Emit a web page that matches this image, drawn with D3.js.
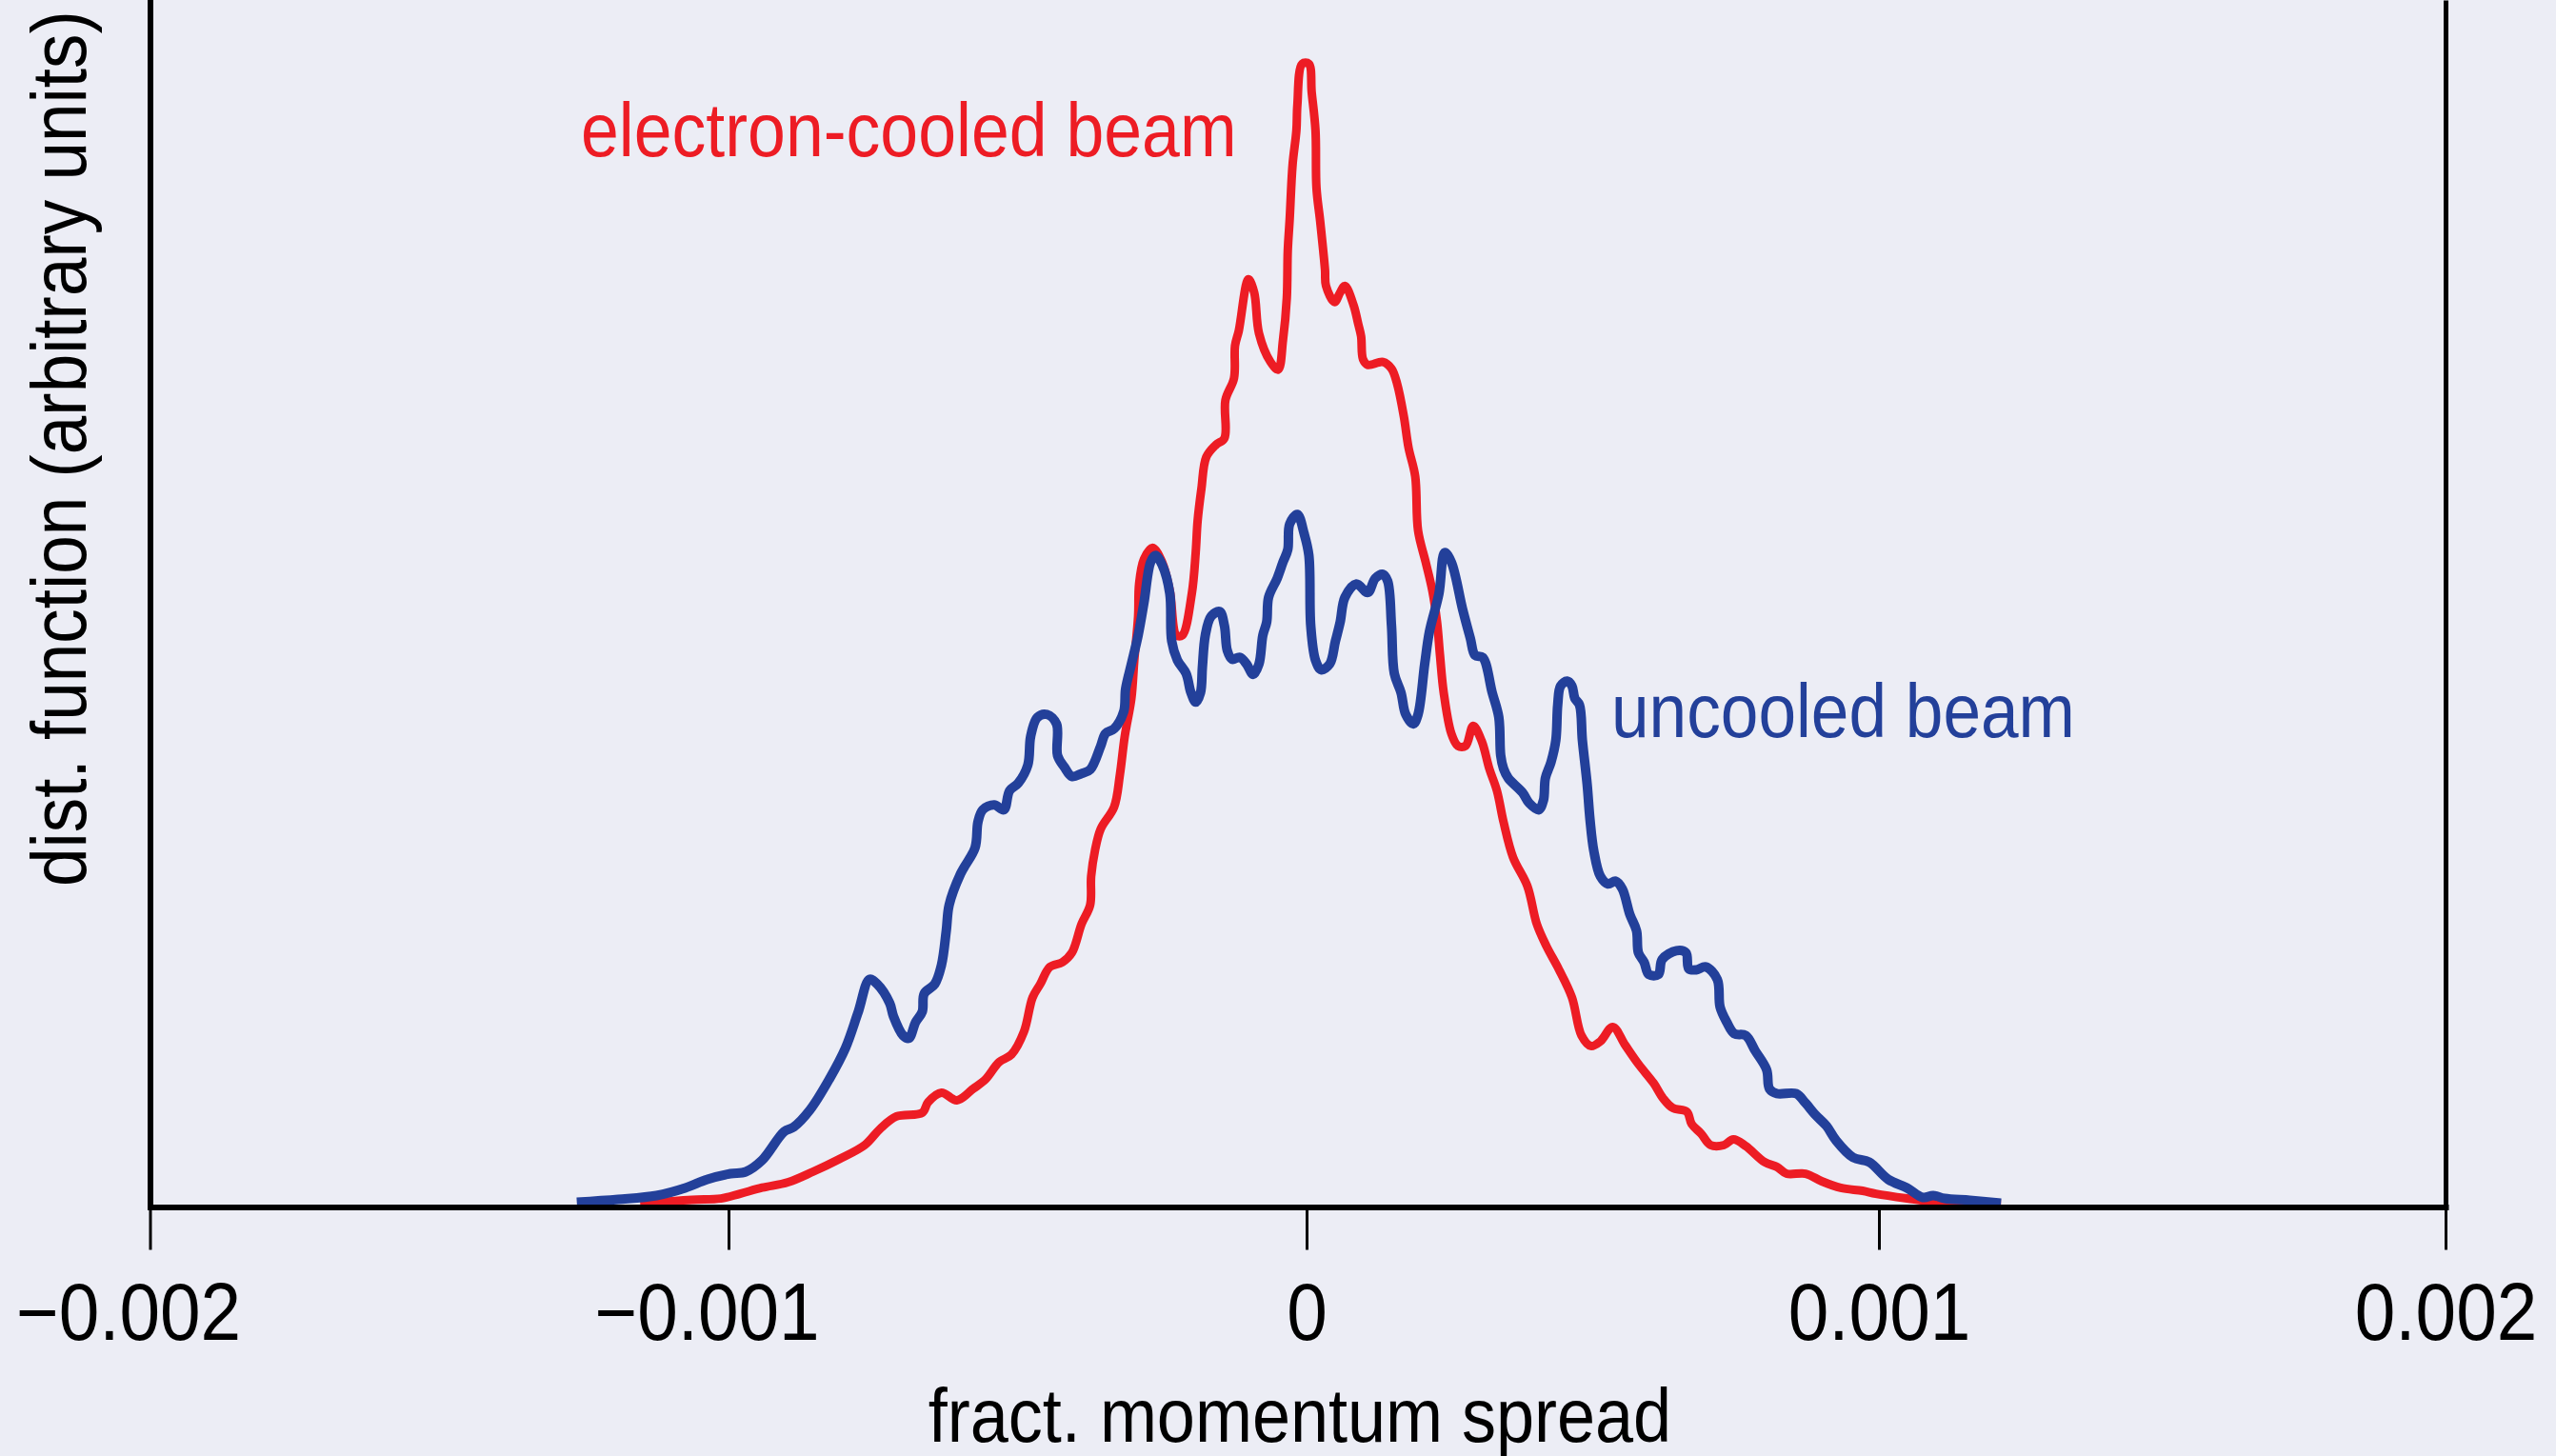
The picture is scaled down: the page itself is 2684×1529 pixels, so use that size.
<!DOCTYPE html>
<html>
<head>
<meta charset="utf-8">
<script src="https://cdn.jsdelivr.net/npm/d3@7"></script>
<style>
  html, body { margin: 0; padding: 0; background: #ecedf5; }
  svg { display: block; }
  text { font-family: "Liberation Sans", Arial, sans-serif; }
</style>
</head>
<body>
<div id="chart"></div>
<script>
// ---- data (x in units of 1e-3, y in arbitrary units) ----
const xTicks = [-0.002, -0.001, 0, 0.001, 0.002];
const xTickLabels = ["\u22120.002", "\u22120.001", "0", "0.001", "0.002"];

const cooledX = [-1.1527, -1.0631, -1.0133, -0.9801, -0.9419, -0.8971, -0.8540, -0.8092, -0.7644, -0.7378,
  -0.7096, -0.6648, -0.6548, -0.6316, -0.6050, -0.5768, -0.5553, -0.5320, -0.5105, -0.4889,
  -0.4740, -0.4607, -0.4441, -0.4225, -0.4059, -0.3893, -0.3744, -0.3727, -0.3661, -0.3561,
  -0.3329, -0.3229, -0.3146, -0.3030, -0.2980, -0.2914, -0.2897, -0.2814, -0.2665, -0.2499,
  -0.2366, -0.2250, -0.2151, -0.1985, -0.1918, -0.1885, -0.1819, -0.1736, -0.1570, -0.1421,
  -0.1404, -0.1255, -0.1238, -0.1172, -0.1006, -0.0906, -0.0823, -0.0624, -0.0491, -0.0408,
  -0.0342, -0.0325, -0.0292, -0.0242, -0.0176, -0.0159, -0.0076, 0.0040, 0.0090, 0.0156,
  0.0173, 0.0239, 0.0322, 0.0339, 0.0488, 0.0587, 0.0670, 0.0820, 0.0903, 0.0953,
  0.0986, 0.1069, 0.1334, 0.1484, 0.1583, 0.1699, 0.1782, 0.1898, 0.1948, 0.2081,
  0.2197, 0.2280, 0.2330, 0.2396, 0.2529, 0.2645, 0.2778, 0.2911, 0.3060, 0.3193,
  0.3326, 0.3442, 0.3608, 0.3857, 0.4023, 0.4189, 0.4404, 0.4637, 0.4803, 0.4968,
  0.5134, 0.5350, 0.5566, 0.5798, 0.6064, 0.6230, 0.6396, 0.6645, 0.6728, 0.6893,
  0.7059, 0.7292, 0.7458, 0.7673, 0.8005, 0.8221, 0.8387, 0.8719, 0.9001, 0.9333,
  0.9715, 0.9947, 1.0495, 1.1042, 1.2154];
const cooledY = [0.3, 0.6, 0.7, 1.1, 1.6, 2.05, 2.92, 3.95, 5.13, 6.47,
  7.50, 7.81, 8.68, 9.47, 8.84, 9.79, 10.58, 12.00, 12.63, 14.52,
  17.36, 18.47, 19.89, 20.28, 21.07, 23.44, 25.02, 27.39, 29.52, 31.33,
  33.15, 35.83, 38.99, 42.15, 45.30, 48.93, 51.62, 53.67, 54.62, 53.43,
  51.07, 47.36, 47.36, 50.83, 54.22, 56.83, 59.51, 62.12, 63.14, 63.69,
  66.85, 68.67, 71.35, 72.61, 76.87, 75.77, 72.38, 70.01, 69.38, 71.82,
  75.30, 79.24, 81.85, 86.35, 89.19, 91.32, 94.71, 94.71, 92.34, 89.19,
  84.45, 81.61, 77.66, 76.32, 74.98, 75.77, 76.32, 74.74, 73.16, 72.14,
  70.24, 69.77, 70.01, 69.46, 68.19, 65.51, 62.90, 60.54, 56.04, 53.43,
  51.07, 48.46, 45.78, 42.62, 39.23, 38.20, 38.20, 39.86, 38.60, 36.31,
  34.49, 31.89, 28.97, 26.60, 23.44, 21.63, 19.73, 17.36, 14.21, 13.34,
  13.73, 14.92, 13.42, 11.84, 10.26, 9.00, 8.21, 7.89, 6.87, 6.08,
  5.13, 5.13, 5.60, 5.05, 3.71, 3.31, 2.76, 2.76, 2.13, 1.58,
  1.34, 1.10, 0.71, 0.39, 0.32];

const uncooledX = [-1.2622, -1.1908, -1.1245, -1.0747, -1.0365, -0.9967, -0.9701, -0.9419, -0.9038, -0.8872,
  -0.8590, -0.8258, -0.7976, -0.7760, -0.7561, -0.7428, -0.7212, -0.7146, -0.6980, -0.6880,
  -0.6764, -0.6648, -0.6615, -0.6432, -0.6316, -0.6233, -0.6183, -0.5984, -0.5735, -0.5685,
  -0.5602, -0.5403, -0.5237, -0.5138, -0.4988, -0.4822, -0.4773, -0.4657, -0.4491, -0.4325,
  -0.4308, -0.4192, -0.4059, -0.3893, -0.3744, -0.3561, -0.3478, -0.3329, -0.3163, -0.3130,
  -0.3030, -0.2914, -0.2814, -0.2698, -0.2615, -0.2499, -0.2366, -0.2333, -0.2234, -0.2084,
  -0.2001, -0.1918, -0.1835, -0.1802, -0.1752, -0.1653, -0.1503, -0.1421, -0.1371, -0.1288,
  -0.1155, -0.1039, -0.0923, -0.0823, -0.0757, -0.0690, -0.0657, -0.0508, -0.0408, -0.0325,
  -0.0292, -0.0159, -0.0043, 0.0040, 0.0073, 0.0156, 0.0256, 0.0405, 0.0504, 0.0587,
  0.0670, 0.0870, 0.1069, 0.1201, 0.1334, 0.1417, 0.1484, 0.1533, 0.1650, 0.1732,
  0.1865, 0.1948, 0.2064, 0.2147, 0.2313, 0.2413, 0.2529, 0.2728, 0.2861, 0.2944,
  0.3077, 0.3243, 0.3359, 0.3392, 0.3442, 0.3525, 0.3774, 0.3890, 0.4056, 0.4139,
  0.4172, 0.4271, 0.4355, 0.4388, 0.4438, 0.4554, 0.4637, 0.4686, 0.4769, 0.4819,
  0.4902, 0.4952, 0.5018, 0.5134, 0.5267, 0.5400, 0.5516, 0.5649, 0.5765, 0.5798,
  0.5898, 0.5981, 0.6147, 0.6213, 0.6462, 0.6628, 0.6678, 0.6811, 0.6976, 0.7176,
  0.7225, 0.7342, 0.7474, 0.7673, 0.7839, 0.8038, 0.8088, 0.8221, 0.8553, 0.8719,
  0.8885, 0.9084, 0.9250, 0.9549, 0.9831, 1.0163, 1.0495, 1.0777, 1.0959, 1.1158,
  1.1606, 1.2154];
const uncooledY = [0.39, 0.63, 0.95, 1.58, 2.29, 2.76, 2.92, 3.87, 6.24, 6.63,
  8.05, 10.58, 13.18, 16.10, 18.86, 18.47, 16.89, 15.79, 14.21, 13.97,
  15.31, 16.18, 17.68, 18.47, 20.05, 22.89, 25.02, 27.62, 29.76, 31.89,
  32.91, 33.31, 32.91, 34.49, 35.12, 36.62, 38.99, 40.57, 40.81, 40.02,
  37.41, 36.46, 35.67, 35.91, 36.23, 38.20, 39.23, 39.62, 41.04, 42.94,
  44.99, 47.36, 50.04, 53.43, 53.99, 53.20, 50.83, 46.88, 45.30, 44.20,
  42.62, 41.83, 42.62, 44.75, 47.36, 48.93, 49.33, 48.15, 46.09, 45.38,
  45.54, 44.99, 44.12, 44.99, 47.36, 48.46, 50.51, 52.09, 53.43, 54.46,
  56.59, 57.38, 55.80, 53.99, 48.15, 45.30, 44.51, 44.99, 46.88, 48.46,
  50.51, 51.62, 50.91, 52.09, 52.41, 51.85, 48.15, 44.20, 42.62, 40.81,
  40.02, 40.81, 44.99, 47.67, 50.83, 54.22, 53.43, 49.49, 47.12, 45.70,
  45.54, 42.62, 40.57, 37.41, 36.31, 35.52, 34.33, 33.46, 32.91, 33.70,
  35.52, 36.86, 38.67, 41.59, 43.17, 43.57, 43.17, 42.15, 41.59, 38.67,
  35.04, 32.12, 29.52, 27.39, 26.76, 26.99, 26.36, 24.23, 22.89, 21.07,
  20.28, 19.26, 19.26, 20.52, 21.23, 21.07, 19.73, 19.65, 19.89, 18.86,
  16.57, 15.31, 14.36, 14.21, 12.94, 11.37, 9.79, 9.39, 9.39, 8.60,
  7.66, 6.71, 5.52, 4.10, 3.71, 2.29, 1.58, 0.79, 0.95, 0.71,
  0.55, 0.32];

const seriesNames = ["electron-cooled beam", "uncooled beam"];
const seriesColors = ["#ed1c24", "#23409a"];

// ---- layout ----
const svgWidth = 2684;
const svgHeight = 1529;
const plotBottom = 1267.5;
const plotTop = 0;
// tick positions as printed in the original (its axis is slightly uneven)
const xTickPos = [157.5, 765, 1372, 1973, 2568];
const plotLeft = xTickPos[0];
const plotRight = xTickPos[xTickPos.length - 1];

const svg = d3.select("#chart")
  .append("svg")
  .attr("width", svgWidth)
  .attr("height", svgHeight);

svg.append("rect")
  .attr("width", svgWidth)
  .attr("height", svgHeight)
  .attr("fill", "#ecedf5");

const xScale = d3.scaleLinear()
  .domain(xTicks)
  .range(xTickPos);
const yScale = d3.scaleLinear()
  .domain([0, 100])
  .range([plotBottom, plotTop]);

// squeeze text horizontally, the original uses a condensed face
function condense(sel, k) {
  sel.each(function () {
    this.setAttribute("textLength", this.getComputedTextLength() * k);
    this.setAttribute("lengthAdjust", "spacingAndGlyphs");
  });
}

// ---- curves ----
const line = d3.line()
  .x(d => xScale(d[0]))
  .y(d => yScale(d[1]))
  .curve(d3.curveCatmullRom.alpha(0.5));

const cooled = cooledX.map((x, i) => [x * 1e-3, cooledY[i]]);
const uncooled = uncooledX.map((x, i) => [x * 1e-3, uncooledY[i]]);

svg.append("path")
  .datum(cooled)
  .attr("d", line)
  .attr("fill", "none")
  .attr("stroke", seriesColors[0])
  .attr("stroke-width", 9)
  .attr("stroke-linejoin", "round");

svg.append("path")
  .datum(uncooled)
  .attr("d", line)
  .attr("fill", "none")
  .attr("stroke", seriesColors[1])
  .attr("stroke-width", 10)
  .attr("stroke-linejoin", "round");

// ---- axes ----
const xAxis = d3.axisBottom(xScale)
  .tickValues(xTicks)
  .tickFormat((d, i) => xTickLabels[i])
  .tickSize(45)
  .tickSizeOuter(0)
  .tickPadding(0);

const gx = svg.append("g")
  .attr("class", "xAxis")
  .attr("transform", "translate(0," + plotBottom + ")")
  .call(xAxis);
gx.select(".domain").attr("stroke", "#000").attr("stroke-width", 6).attr("stroke-linecap", "square");
gx.selectAll(".tick line").attr("stroke", "#000").attr("stroke-width", 3);
gx.selectAll(".tick text")
  .attr("y", 139)
  .attr("dy", 0)
  .attr("dx", d => d < 0 ? -23 : 0)
  .attr("fill", "#000")
  .style("font-size", "85px")
  .style("font-family", "'Liberation Sans', Arial, sans-serif")
  .call(condense, 0.9);

const gyL = svg.append("g")
  .attr("transform", "translate(" + plotLeft + ",0)")
  .call(d3.axisLeft(yScale).tickValues([]).tickSizeOuter(0));
gyL.select(".domain").attr("stroke", "#000").attr("stroke-width", 6).attr("stroke-linecap", "square");

const gyR = svg.append("g")
  .attr("transform", "translate(" + plotRight + ",0)")
  .call(d3.axisRight(yScale).tickValues([]).tickSizeOuter(0));
gyR.select(".domain").attr("stroke", "#000").attr("stroke-width", 5);

// ---- labels ----
svg.append("text")
  .attr("x", 1365)
  .attr("y", 1514)
  .attr("text-anchor", "middle")
  .style("font-size", "80px")
  .text("fract. momentum spread")
  .call(condense, 0.9);

svg.append("text")
  .attr("transform", "translate(90,931) rotate(-90)")
  .attr("text-anchor", "start")
  .style("font-size", "81px")
  .text("dist. function (arbitrary units)")
  .call(condense, 0.9);

svg.append("text")
  .attr("x", 610)
  .attr("y", 164)
  .attr("fill", seriesColors[0])
  .style("font-size", "80px")
  .text(seriesNames[0])
  .call(condense, 0.895);

svg.append("text")
  .attr("x", 1692)
  .attr("y", 774)
  .attr("fill", seriesColors[1])
  .style("font-size", "80px")
  .text(seriesNames[1])
  .call(condense, 0.89);
</script>
</body>
</html>
